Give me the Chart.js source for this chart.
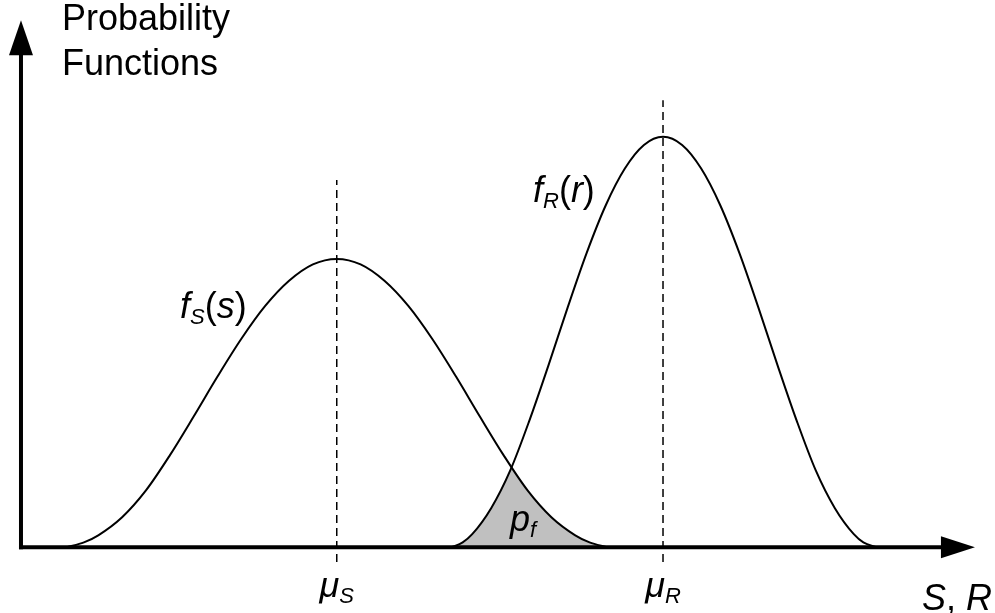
<!DOCTYPE html>
<html>
<head>
<meta charset="utf-8">
<script src="https://cdn.jsdelivr.net/npm/chart.js@4.4.1/dist/chart.umd.min.js"></script>
<style>
  html, body { margin: 0; padding: 0; background: #fff; }
  #wrap { width: 995px; height: 613px; position: relative; }
</style>
</head>
<body>
<div id="wrap"><canvas id="pdfChart"></canvas></div>
<script>
// Load effect S and resistance R, schematic densities
const fsX = [0.48, 0.66, 0.81, 1.06, 1.31, 1.56, 1.81, 2.06, 2.31, 2.56, 2.81, 3.06, 3.31, 3.56, 3.81, 4.06, 4.31, 4.56, 4.81, 5.06, 5.31, 5.56, 5.81, 5.96, 6.14];
const fsY = [0, 0.009, 0.022, 0.055, 0.104, 0.168, 0.239, 0.312, 0.381, 0.441, 0.487, 0.517, 0.527, 0.517, 0.487, 0.441, 0.381, 0.312, 0.239, 0.168, 0.104, 0.055, 0.022, 0.009, 0];

const frX = [4.51, 4.63, 4.73, 4.93, 5.13, 5.33, 5.53, 5.73, 5.93, 6.13, 6.33, 6.53, 6.73, 6.93, 7.13, 7.33, 7.53, 7.73, 7.93, 8.13, 8.33, 8.53, 8.73, 8.83, 8.97];
const frY = [0, 0.009, 0.024, 0.072, 0.141, 0.232, 0.333, 0.438, 0.538, 0.625, 0.692, 0.735, 0.75, 0.735, 0.692, 0.625, 0.538, 0.438, 0.333, 0.232, 0.141, 0.072, 0.024, 0.009, 0];

// means and the extent of their dashed markers
const means = [3.31, 6.73];
const meanTop = [0.671, 0.817];
const meanBottom = -0.027;

// axis extents (arrow tips)
const xAxisEnd = 10;
const yAxisEnd = 0.963;

const FONT = '"Liberation Sans", Arial, sans-serif';

const toPoints = (xs, ys) => xs.map((x, i) => ({ x, y: ys[i] }));

function arrowHead(ctx, tipX, tipY, dir, len, half) {
  ctx.beginPath();
  if (dir === 'up') {
    ctx.moveTo(tipX, tipY);
    ctx.lineTo(tipX - half, tipY + len);
    ctx.lineTo(tipX + half, tipY + len);
  } else {
    ctx.moveTo(tipX, tipY);
    ctx.lineTo(tipX - len, tipY - half);
    ctx.lineTo(tipX - len, tipY + half);
  }
  ctx.closePath();
  ctx.fill();
}

// draw a run of text pieces: {t, it, sub}
function drawMath(ctx, x, y, parts, align) {
  const big = 36, small = 22;
  const fontFor = (p) => (p.it ? 'italic ' : '') + (p.sub ? small : big) + 'px ' + FONT;
  let total = 0;
  parts.forEach((p) => { ctx.font = fontFor(p); total += ctx.measureText(p.t).width; });
  let cx = align === 'center' ? x - total / 2 : x;
  ctx.textBaseline = 'alphabetic';
  ctx.textAlign = 'left';
  parts.forEach((p) => {
    ctx.font = fontFor(p);
    ctx.fillText(p.t, cx, p.sub ? y + 6 : y);
    cx += ctx.measureText(p.t).width;
  });
}

// shaded overlap: area under fS clipped by area under fR
const overlapFill = {
  id: 'overlapFill',
  beforeDatasetsDraw(chart) {
    try {
      const ctx = chart.ctx;
      const lineS = chart.getDatasetMeta(0).dataset;
      const lineR = chart.getDatasetMeta(1).dataset;
      ctx.save();
      ctx.beginPath();
      lineR.path(ctx);
      ctx.closePath();
      ctx.clip();
      ctx.beginPath();
      lineS.path(ctx);
      ctx.closePath();
      ctx.fillStyle = '#c0c0c0';
      ctx.fill();
      ctx.restore();
    } catch (e) {
      console.warn('Overlap fill skipped:', e?.message || e);
    }
  }
};

const axesAndLabels = {
  id: 'axesAndLabels',
  afterDatasetsDraw(chart) {
    const ctx = chart.ctx;
    const xs = chart.scales.x, ys = chart.scales.y;
    const x0 = xs.getPixelForValue(0);
    const y0 = ys.getPixelForValue(0);
    const xEnd = xs.getPixelForValue(xAxisEnd);
    const yEnd = ys.getPixelForValue(yAxisEnd);
    ctx.save();
    ctx.strokeStyle = '#000';
    ctx.fillStyle = '#000';
    ctx.lineWidth = 4;
    ctx.lineCap = 'butt';
    ctx.beginPath();
    ctx.moveTo(x0, y0 + 2);
    ctx.lineTo(x0, yEnd + 30);
    ctx.stroke();
    ctx.beginPath();
    ctx.moveTo(x0 - 2, y0);
    ctx.lineTo(xEnd - 30, y0);
    ctx.stroke();
    arrowHead(ctx, x0, yEnd, 'up', 35, 12);
    arrowHead(ctx, xEnd, y0, 'right', 34, 11);

    // axis titles
    ctx.font = '36px ' + FONT;
    ctx.textAlign = 'left';
    ctx.textBaseline = 'alphabetic';
    ctx.fillText('Probability', 62, 30);
    ctx.fillText('Functions', 62, 75);
    drawMath(ctx, 922, 610, [{ t: 'S', it: true }, { t: ', ' }, { t: 'R', it: true }], 'left');

    // mean labels
    drawMath(ctx, xs.getPixelForValue(means[0]), 597, [{ t: 'μ', it: true }, { t: 'S', it: true, sub: true }], 'center');
    drawMath(ctx, xs.getPixelForValue(means[1]), 597, [{ t: 'μ', it: true }, { t: 'R', it: true, sub: true }], 'center');

    // curve labels
    drawMath(ctx, 180, 318, [{ t: 'f', it: true }, { t: 'S', it: true, sub: true }, { t: '(' }, { t: 's', it: true }, { t: ')' }], 'left');
    drawMath(ctx, 533, 202, [{ t: 'f', it: true }, { t: 'R', it: true, sub: true }, { t: '(' }, { t: 'r', it: true }, { t: ')' }], 'left');
    drawMath(ctx, 510, 531, [{ t: 'p', it: true }, { t: 'f', it: true, sub: true }], 'left');
    ctx.restore();
  }
};

const curveStyle = {
  borderColor: '#000',
  borderWidth: 2,
  pointRadius: 0,
  fill: false,
  cubicInterpolationMode: 'monotone'
};

const dashStyle = {
  borderColor: '#000',
  borderWidth: 1.5,
  borderDash: [8, 5],
  pointRadius: 0,
  fill: false
};

new Chart(document.getElementById('pdfChart'), {
  type: 'line',
  data: {
    datasets: [
      { label: 'fS(s)', data: toPoints(fsX, fsY), ...curveStyle },
      { label: 'fR(r)', data: toPoints(frX, frY), ...curveStyle },
      { label: 'μS', data: [{ x: means[0], y: meanBottom }, { x: means[0], y: meanTop[0] }], ...dashStyle },
      { label: 'μR', data: [{ x: means[1], y: meanBottom }, { x: means[1], y: meanTop[1] }], ...dashStyle }
    ]
  },
  options: {
    responsive: true,
    maintainAspectRatio: false,
    animation: false,
    layout: { padding: 0 },
    plugins: {
      legend: { display: false },
      tooltip: { enabled: false },
      title: { display: false }
    },
    scales: {
      x: { type: 'linear', min: -0.22, max: 10.21, display: false },
      y: { type: 'linear', min: -0.12, max: 1, display: false }
    }
  },
  plugins: [overlapFill, axesAndLabels]
});
</script>
</body>
</html>
